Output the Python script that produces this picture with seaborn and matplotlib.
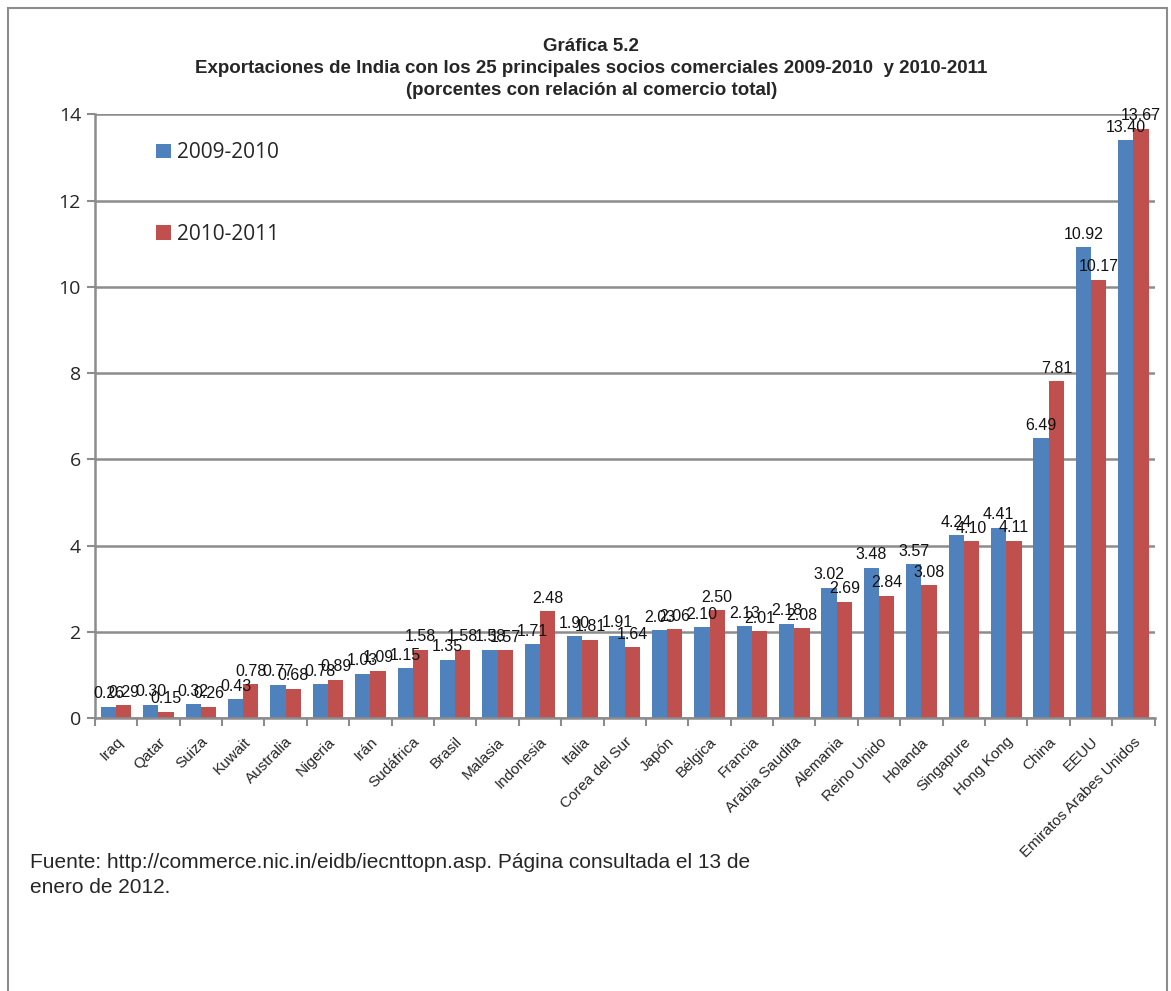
import matplotlib
matplotlib.use("Agg")
import matplotlib.pyplot as plt
import seaborn as sns
import pandas as pd
import numpy as np
from matplotlib.patches import Rectangle

countries = ["Iraq", "Qatar", "Suiza", "Kuwait", "Australia", "Nigeria", "Irán",
             "Sudáfrica", "Brasil", "Malasia", "Indonesia", "Italia", "Corea del Sur",
             "Japón", "Bélgica", "Francia", "Arabia Saudita", "Alemania", "Reino Unido",
             "Holanda", "Singapure", "Hong Kong", "China", "EEUU", "Emiratos Arabes Unidos"]
v2009 = [0.26, 0.30, 0.32, 0.43, 0.77, 0.78, 1.03, 1.15, 1.35, 1.58, 1.71, 1.90, 1.91,
         2.03, 2.10, 2.13, 2.18, 3.02, 3.48, 3.57, 4.24, 4.41, 6.49, 10.92, 13.40]
v2010 = [0.29, 0.15, 0.26, 0.78, 0.68, 0.89, 1.09, 1.58, 1.58, 1.57, 2.48, 1.81, 1.64,
         2.06, 2.50, 2.01, 2.08, 2.69, 2.84, 3.08, 4.10, 4.11, 7.81, 10.17, 13.67]
series = ["2009-2010", "2010-2011"]
yticks = [0, 2, 4, 6, 8, 10, 12, 14]

df = pd.DataFrame({
    "pais": countries * 2,
    "valor": v2009 + v2010,
    "serie": [series[0]] * len(countries) + [series[1]] * len(countries),
})

sns.set_theme(style="white")
plt.rcParams["font.family"] = ["Liberation Sans", "DejaVu Sans"]

fig = plt.figure(figsize=(11.71, 9.91), dpi=100)
ax = fig.add_axes([0.081, 0.2755, 0.905, 0.609])

palette = {"2009-2010": "#4F81BD", "2010-2011": "#C0504D"}
sns.barplot(data=df, x="pais", y="valor", hue="serie", palette=palette,
            width=0.72, ax=ax, saturation=1, edgecolor="none", order=countries)

for cont in ax.containers:
    ax.bar_label(cont, fmt="%.2f", padding=4, fontsize=11.5, color="#111111")

ax.set_ylim(0, 14)
ax.set_xlim(-0.5, len(countries) - 0.5)
ax.set_yticks(yticks)
ax.set_yticklabels([str(t) for t in yticks], fontsize=14, family=["Open Sans", "DejaVu Sans"])
ax.yaxis.grid(True, color="#8c8c8c", linewidth=1.8)
ax.set_axisbelow(True)
ax.set_xlabel("")
ax.set_ylabel("")

ax.set_xticks(range(len(countries)))
ax.set_xticklabels(countries, rotation=45, ha="right", rotation_mode="anchor", fontsize=11)
ax.set_xticks(np.arange(-0.5, len(countries), 1.0), minor=True)
ax.tick_params(axis="x", which="major", length=0, pad=12)
ax.tick_params(axis="x", which="minor", length=6, width=1.5, color="#8c8c8c", bottom=True)
ax.tick_params(axis="y", which="major", length=6, width=1.5, color="#8c8c8c", left=True, pad=4)

for s in ["top", "right"]:
    ax.spines[s].set_visible(False)
for s in ["left", "bottom"]:
    ax.spines[s].set_color("#8c8c8c")
    ax.spines[s].set_linewidth(1.8)

leg = ax.legend(loc="upper left", bbox_to_anchor=(0.04, 0.985), frameon=False,
                labelspacing=2.9, handlelength=0.7, handleheight=0.7,
                handletextpad=0.3, prop={"family": ["Open Sans", "DejaVu Sans"], "size": 15})

title_kw = dict(ha="center", va="center", fontsize=13.5, fontweight="bold", fontstretch="condensed")
fig.text(0.505, 0.953, "Gráfica 5.2", **title_kw)
fig.text(0.505, 0.931, "Exportaciones de India con los 25 principales socios comerciales 2009-2010  y 2010-2011",
         **title_kw)
fig.text(0.505, 0.909, "(porcentes con relación al comercio total)", **title_kw)

fig.text(0.026, 0.130, "Fuente: http://commerce.nic.in/eidb/iecnttopn.asp. Página consultada el 13 de",
         ha="left", va="center", fontsize=15)
fig.text(0.026, 0.104, "enero de 2012.", ha="left", va="center", fontsize=15)

fig.patches.append(Rectangle((0.007, -0.01), 0.99, 1.002, transform=fig.transFigure,
                             fill=False, edgecolor="#8c8c8c", linewidth=1.5))

fig.savefig("out.png", dpi=100)
